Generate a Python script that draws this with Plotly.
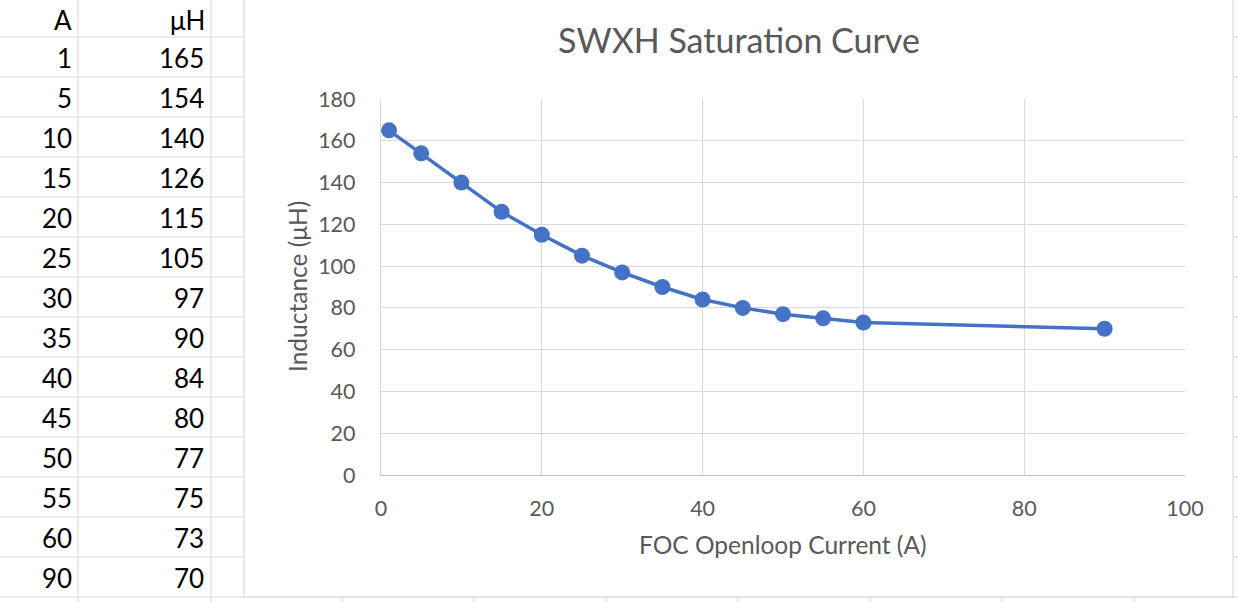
import plotly.graph_objects as go

# ---- data ----
current_a = [1, 5, 10, 15, 20, 25, 30, 35, 40, 45, 50, 55, 60, 90]
inductance_uh = [165, 154, 140, 126, 115, 105, 97, 90, 84, 80, 77, 75, 73, 70]
col_headers = ["A", "μH"]
x_ticks = [0, 20, 40, 60, 80, 100]
y_ticks = [0, 20, 40, 60, 80, 100, 120, 140, 160, 180]
chart_title = "SWXH Saturation Curve"
x_title = "FOC Openloop Current (A)"
y_title = "Inductance (μH)"

W, H = 1238, 602
def px(x):
    return x / W
def py(y):
    return 1 - y / H

SHEET_GRID = "#d9d9d9"
TXT = "#595959"
BLUE = "#4472C4"
FONT = "Lato"

# spreadsheet geometry
col_edges = [78, 211] + [342 + 132 * k for k in range(8)]
header_bottom = 37
row_h = 40
row_edges = [header_bottom + row_h * k for k in range(16)]

shapes = []
for cx in col_edges:
    shapes.append(dict(type="line", xref="paper", yref="paper", x0=px(cx), x1=px(cx),
                       y0=0, y1=1, line=dict(color=SHEET_GRID, width=1), layer="below"))
for ry in row_edges:
    shapes.append(dict(type="line", xref="paper", yref="paper", x0=0, x1=1,
                       y0=py(ry), y1=py(ry), line=dict(color=SHEET_GRID, width=1), layer="below"))
# chart area
shapes.append(dict(type="rect", xref="paper", yref="paper", x0=px(244), x1=px(1233),
                   y0=py(597), y1=py(-2), fillcolor="white",
                   line=dict(color="#d4d4d4", width=1), layer="below"))

annotations = []
# table headers
for i, h in enumerate(col_headers):
    annotations.append(dict(text=h, xref="paper", yref="paper", x=px(col_edges[i] - 4), y=py(20),
                            xanchor="right", yanchor="middle", showarrow=False,
                            font=dict(family=FONT, size=26, color="black")))
for k, (a, l) in enumerate(zip(current_a, inductance_uh)):
    yc = header_bottom + row_h * k + 21
    annotations.append(dict(text=str(a), xref="paper", yref="paper", x=px(col_edges[0] - 4), y=py(yc),
                            xanchor="right", yanchor="middle", showarrow=False,
                            font=dict(family=FONT, size=26, color="black")))
    annotations.append(dict(text=str(l), xref="paper", yref="paper", x=px(col_edges[1] - 5), y=py(yc),
                            xanchor="right", yanchor="middle", showarrow=False,
                            font=dict(family=FONT, size=26, color="black")))
# axis titles
annotations.append(dict(text=x_title, xref="paper", yref="paper", x=px(783), y=py(544),
                        xanchor="center", yanchor="middle", showarrow=False,
                        font=dict(family=FONT, size=24.5, color=TXT)))
annotations.append(dict(text=y_title, xref="paper", yref="paper", x=px(297), y=py(287),
                        xanchor="center", yanchor="middle", showarrow=False, textangle=-90,
                        font=dict(family=FONT, size=24.5, color=TXT)))

fig = go.Figure()
fig.add_trace(go.Scatter(x=current_a, y=inductance_uh, mode="lines+markers",
                         line=dict(color=BLUE, width=3.5),
                         marker=dict(color=BLUE, size=16), showlegend=False,
                         cliponaxis=False))

fig.update_layout(
    template="none",
    width=W, height=H, autosize=False,
    margin=dict(l=0, r=0, t=0, b=0, pad=0),
    paper_bgcolor="white", plot_bgcolor="rgba(0,0,0,0)",
    shapes=shapes, annotations=annotations, showlegend=False,
    title=dict(text=chart_title, x=px(739), xanchor="center", xref="paper",
               y=py(41), yanchor="middle", yref="paper", automargin=False,
               font=dict(family=FONT, size=34, color=TXT)),
    xaxis=dict(domain=[px(381), px(1185)], range=[0, 100], tickvals=x_ticks,
               showgrid=True, gridcolor=SHEET_GRID, gridwidth=1.3, zeroline=False,
               showline=True, linecolor="#bfbfbf", linewidth=1.3, ticks="",
               automargin=False,
               ticklabelstandoff=14, tickfont=dict(family=FONT, size=21.5, color=TXT),
               fixedrange=True),
    yaxis=dict(domain=[py(475), py(99)], range=[0, 180], tickvals=y_ticks,
               showgrid=True, gridcolor=SHEET_GRID, gridwidth=1.3, zeroline=False,
               showline=True, linecolor=SHEET_GRID, linewidth=1.3, ticks="",
               automargin=False,
               ticklabelstandoff=20, tickfont=dict(family=FONT, size=21.5, color=TXT),
               fixedrange=True),
)

fig.write_html("out.html", config={"displayModeBar": False},
               post_script="document.body.style.margin='0';")
